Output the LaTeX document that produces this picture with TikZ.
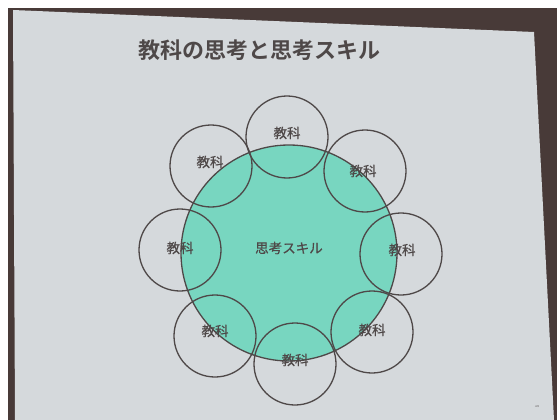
\documentclass[tikz,border=0pt]{standalone}
\usepackage{fontspec}
\newfontfamily\cjk[FakeBold=0.6]{Noto Sans CJK JP}
\newfontfamily\cjkb{Noto Sans CJK JP Bold}
\definecolor{frame}{RGB}{72,58,56}
\definecolor{slide}{RGB}{213,217,220}
\definecolor{skill}{RGB}{120,214,192}
\definecolor{ink}{RGB}{78,72,72}
\tikzset{
  subj/.style={circle,draw=ink,line width=1.3pt,minimum size=82pt,inner sep=0pt},
  lbl/.style={text=ink,font=\cjk\fontsize{13.5pt}{13.5pt}\selectfont,inner sep=0pt},
}
\begin{document}
\begin{tikzpicture}[x=1pt,y=-1pt]
\useasboundingbox (0,0) rectangle (557,420);
\fill[white] (0,0) rectangle (557,420);
\fill[frame] (8,8) rectangle (557,420);
\fill[slide] (13,10) -- (534,32) -- (554,420) -- (15,420) -- cycle;
\node[text=ink,font=\cjkb\fontsize{22pt}{22pt}\selectfont,inner sep=0pt] (title) at (259,50) {教科の思考と思考スキル};
\node[circle,fill=skill,draw=ink,line width=1.3pt,minimum size=216pt,inner sep=0pt] (core) at (289,253) {};
\node[subj] (c1) at (287,137) {};
\node[subj] (c2) at (365,171) {};
\node[subj] (c3) at (401,254) {};
\node[subj] (c4) at (372,332) {};
\node[subj] (c5) at (295,364) {};
\node[subj] (c6) at (215,336) {};
\node[subj] (c7) at (180,250) {};
\node[subj] (c8) at (211,166) {};
\node[lbl] (t1) at (287,133) {教科};
\node[lbl] (t2) at (363,171) {教科};
\node[lbl] (t3) at (402,250) {教科};
\node[lbl] (t4) at (372,330) {教科};
\node[lbl] (t5) at (295,360) {教科};
\node[lbl] (t6) at (215,331) {教科};
\node[lbl] (t7) at (180,248) {教科};
\node[lbl] (t8) at (210,162) {教科};
\node[lbl] (sk) at (289,248) {思考スキル};
\node[text=ink,font=\fontsize{3pt}{3pt}\selectfont,inner sep=0pt] (pg) at (537,407) {48};
\end{tikzpicture}
\end{document}
